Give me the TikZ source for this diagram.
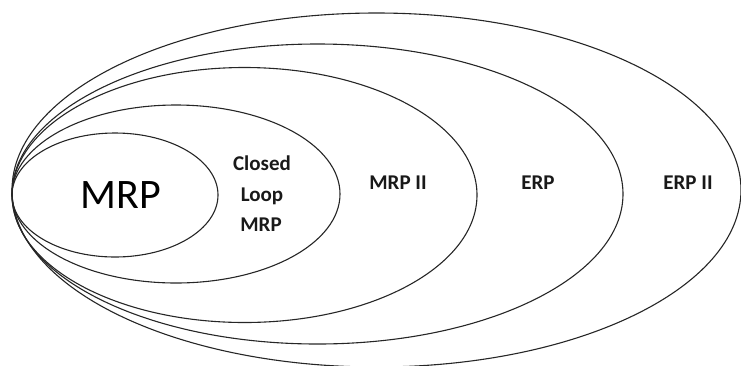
\documentclass[tikz,border=0pt]{standalone}
\usepackage{fontspec}
\setmainfont{Carlito}
\usetikzlibrary{shapes.geometric}
\begin{document}
\begin{tikzpicture}[x=1pt,y=-1pt,
  ring/.style={draw=black!85,line width=1.1pt,ellipse,inner sep=0pt},
  lbl/.style={font=\bfseries\fontsize{21}{23}\selectfont,text=black!90,inner sep=0pt}]
\useasboundingbox (0,0) rectangle (741,365);
\node[ring,minimum width=729pt,minimum height=354pt] (erp2) at (376.5,190) {};
\node[ring,minimum width=611pt,minimum height=300pt] (erp) at (317.5,194) {};
\node[ring,minimum width=465pt,minimum height=255pt] (mrp2) at (244.5,195) {};
\node[ring,minimum width=328pt,minimum height=178pt] (clmrp) at (176,194) {};
\node[ring,minimum width=206pt,minimum height=124pt] (mrp) at (115,195) {};
\node[font=\fontsize{42}{44}\selectfont,inner sep=0pt] (tmrp) at (121,195) {MRP};
\node[lbl] (tclosed) at (262,163) {Closed};
\node[lbl] (tloop) at (262,196) {Loop};
\node[lbl] (tmrpc) at (261,225) {MRP};
\node[lbl] (tmrp2) at (398,183) {MRP II};
\node[lbl] (terp) at (538,183) {ERP};
\node[lbl] (terp2) at (688,183) {ERP II};
\end{tikzpicture}
\end{document}
